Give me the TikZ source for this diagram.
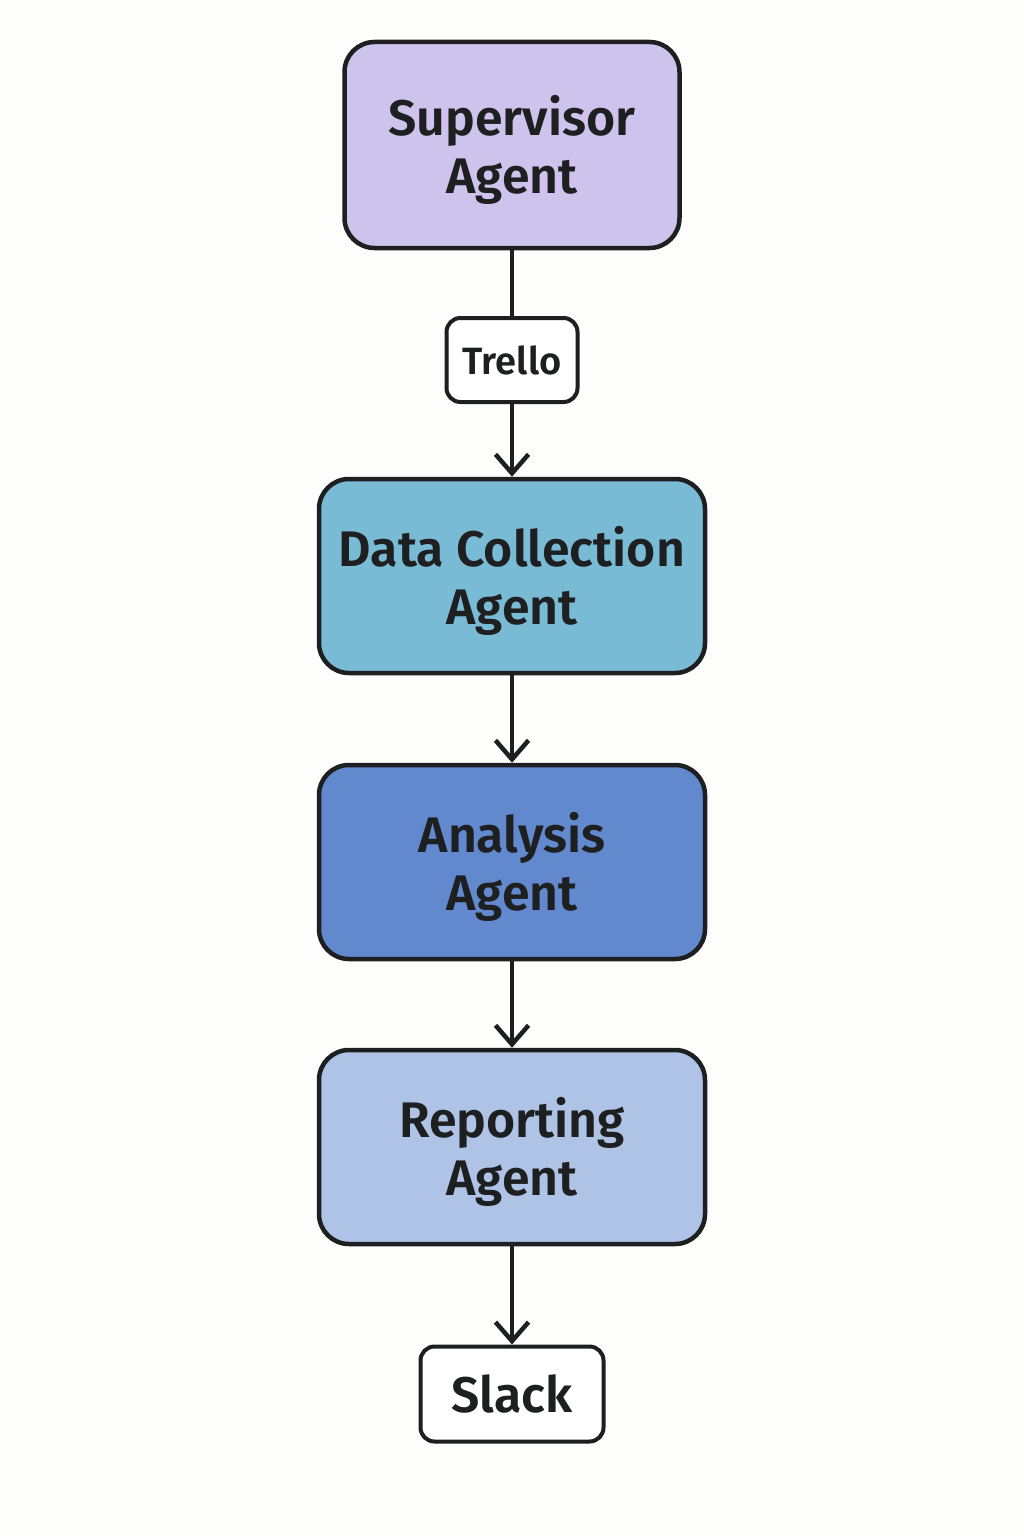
\documentclass[tikz,border=0pt]{standalone}
\usepackage{fontspec}
\setmainfont{Fira Sans}[UprightFont=* SemiBold]
\usetikzlibrary{arrows.meta}
\definecolor{bg}{HTML}{FDFDFB}
\definecolor{edge}{HTML}{1E1F20}
\definecolor{supc}{HTML}{CDC3EC}
\definecolor{datac}{HTML}{79BBD5}
\definecolor{anac}{HTML}{6288CD}
\definecolor{repc}{HTML}{AEC3E6}
\newcommand\agentlbl[2]{\rule{0pt}{50pt}#1\\#2\rule[-12pt]{0pt}{12pt}}
\tikzset{
  agent/.style={draw=edge, line width=4.5pt, rounded corners=30pt, minimum width=386pt, minimum height=194pt, align=center, font=\fontsize{50}{58}\selectfont, text=edge, inner sep=0pt},
  tool/.style={draw=edge, fill=white, line width=4pt, rounded corners=14pt, align=center, text=edge, inner sep=0pt},
  flow/.style={draw=edge, line width=4.5pt, -{Straight Barb[length=19pt,width=33pt,line width=4.5pt]}},
  plain/.style={draw=edge, line width=4.5pt}
}
\begin{document}
\begin{tikzpicture}[x=1pt,y=-1pt]
\useasboundingbox (0,0) rectangle (1024,1536);
\fill[bg] (0,0) rectangle (1024,1536);
\node[agent, fill=supc, minimum width=335pt, minimum height=206pt] (sup) at (512,145) {\agentlbl{Supervisor}{Agent}};
\node[tool, minimum width=131pt, minimum height=84pt, font=\fontsize{38}{46}\selectfont] (trello) at (512,360) {Trello};
\node[agent, fill=datac] (data) at (512,576) {\agentlbl{Data Collection}{Agent}};
\node[agent, fill=anac] (ana) at (512,862) {\agentlbl{Analysis}{Agent}};
\node[agent, fill=repc] (rep) at (512,1147) {\agentlbl{Reporting}{Agent}};
\node[tool, minimum width=183pt, minimum height=95pt, font=\fontsize{50}{58}\selectfont] (slack) at (512,1394) {Slack};
\draw[plain] (sup) -- (trello);
\draw[flow] (trello) -- (data);
\draw[flow] (data) -- (ana);
\draw[flow] (ana) -- (rep);
\draw[flow] (rep) -- (slack);
\end{tikzpicture}
\end{document}
